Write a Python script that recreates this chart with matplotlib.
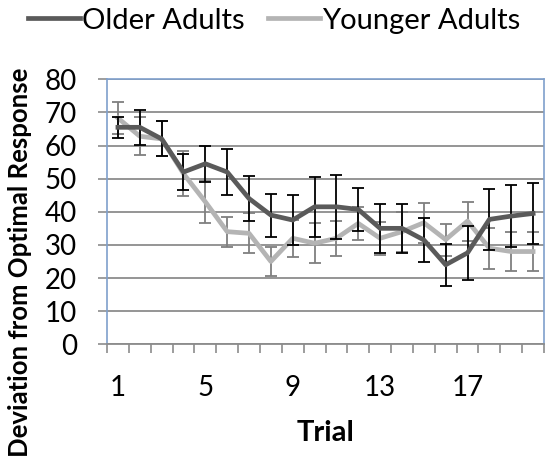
import matplotlib.pyplot as plt
from matplotlib.lines import Line2D
from matplotlib.ticker import FixedLocator

trials = list(range(1, 21))
older = [65.5, 65.5, 62, 52, 54.5, 52, 44, 39, 37.5, 41.5,
         41.5, 40.7, 35, 35, 31.5, 24, 27.6, 37.7, 38.7, 39.5]
older_err = [3.2, 5.3, 5.3, 5.5, 5.5, 7, 6.8, 6.5, 7.5, 9,
             9.7, 6.5, 7.5, 7.5, 6.7, 6.4, 8.2, 9.3, 9.4, 9.3]
younger = [68.3, 62.8, 62, 51.5, 43, 34, 33.5, 25, 32, 30.5,
           32, 36.5, 32, 34, 36.7, 31.6, 37.2, 29, 28, 28]
younger_err = [4.7, 5.7, 5.3, 6.8, 6.3, 4.5, 6, 4.3, 5.5, 6,
               5.2, 5, 5, 6, 6.1, 4.8, 5.9, 6.2, 6, 6]
label_trials = [1, 5, 9, 13, 17]

older_color = '#5a5a5a'
younger_color = '#b4b4b4'

plt.rcParams['font.family'] = ['Lato', 'DejaVu Sans']

fig = plt.figure(figsize=(5.48, 4.65), dpi=100)
ax = fig.add_axes([0.1953, 0.2596, 0.7974, 0.5699])

ax.errorbar(trials, older, yerr=older_err, color=older_color, lw=3.4,
            ecolor='black', elinewidth=1.3, capsize=4.5, capthick=1.3, zorder=3)
ax.errorbar(trials, younger, yerr=younger_err, color=younger_color, lw=3.4,
            ecolor='#7f7f7f', elinewidth=1.3, capsize=4.5, capthick=1.3, zorder=2)

ax.set_xlim(0.5, 20.5)
ax.set_ylim(0, 80)
ax.set_yticks(range(0, 81, 10))
ax.yaxis.grid(True, color='#8c8c8c', lw=1.3)
ax.set_axisbelow(True)

ax.set_xticks(label_trials)
ax.xaxis.set_minor_locator(FixedLocator([i + 0.5 for i in range(0, 21)]))
ax.tick_params(axis='x', which='major', length=0, pad=22, labelsize=20)
ax.tick_params(axis='x', which='minor', length=6.5, color='#8c8c8c', width=1.2)
ax.tick_params(axis='y', length=6.5, color='#8c8c8c', width=1.2, labelsize=20, pad=15)

for s in ['top', 'right', 'left']:
    ax.spines[s].set_color('#7fa0cc')
    ax.spines[s].set_linewidth(1.2)
ax.spines['bottom'].set_color('#8c8c8c')
ax.spines['bottom'].set_linewidth(1.3)

ax.set_xlabel('Trial', fontsize=21, fontweight='bold', labelpad=14)
ax.set_ylabel('Deviation from Optimal Response', fontsize=18.5, fontweight='bold')
ax.yaxis.set_label_coords(-0.172, 0.31)

handles = [Line2D([], [], color=older_color, lw=3.4),
           Line2D([], [], color=younger_color, lw=3.4)]
fig.legend(handles, ['Older Adults', 'Younger Adults'], loc='upper center',
           bbox_to_anchor=(0.5, 1.04), ncol=2, frameon=False, fontsize=21,
           handlelength=1.8, handletextpad=0.05, columnspacing=0.8)

fig.savefig('out.png', dpi=100)
